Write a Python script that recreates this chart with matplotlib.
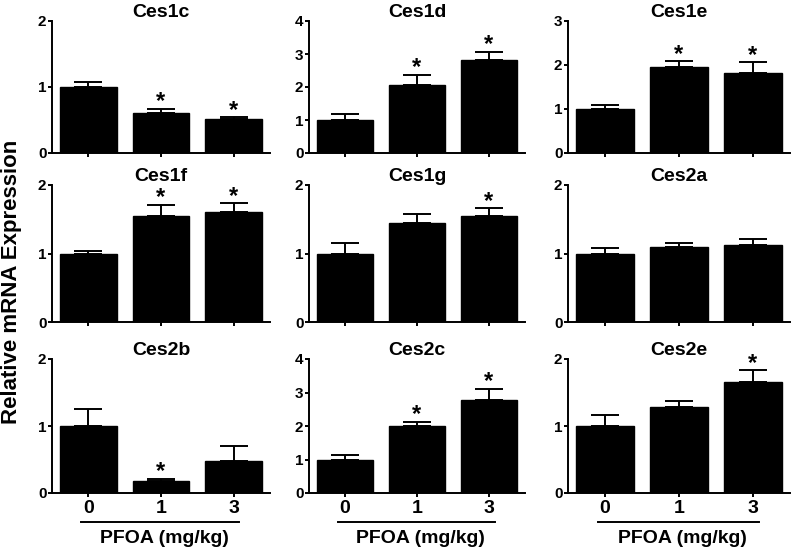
import matplotlib
matplotlib.use('Agg')
import matplotlib.pyplot as plt

plt.rcParams['font.family'] = ['Liberation Sans', 'DejaVu Sans']
plt.rcParams['font.weight'] = 'bold'

# data
genes = ['Ces1c', 'Ces1d', 'Ces1e', 'Ces1f', 'Ces1g', 'Ces2a', 'Ces2b', 'Ces2c', 'Ces2e']
doses = ['0', '1', '3']
means = [[1.00, 0.60, 0.51], [1.00, 2.06, 2.82], [1.00, 1.95, 1.82],
         [1.00, 1.55, 1.61], [1.00, 1.45, 1.55], [1.00, 1.09, 1.12],
         [1.00, 0.18, 0.48], [1.00, 2.00, 2.79], [1.00, 1.28, 1.66]]
sems = [[0.07, 0.07, 0.03], [0.17, 0.31, 0.24], [0.09, 0.13, 0.24],
        [0.04, 0.16, 0.12], [0.15, 0.13, 0.11], [0.08, 0.06, 0.09],
        [0.26, 0.03, 0.22], [0.13, 0.13, 0.31], [0.17, 0.10, 0.17]]
signif = [[0, 1, 1], [0, 1, 1], [0, 1, 1],
          [0, 1, 1], [0, 0, 1], [0, 0, 0],
          [0, 1, 0], [0, 1, 1], [0, 0, 1]]
ymax = [2, 4, 3, 2, 2, 2, 2, 4, 2]

W, H = 800, 552
fig = plt.figure(figsize=(8, 5.52), dpi=100)

col_left = [52, 309, 568]
col_width = [218, 216, 222]
rows = [(21, 153), (185, 322), (359, 493)]  # top, bottom in pixels

x = [0, 1, 2]
lw = 1.4
for i, gene in enumerate(genes):
    r, c = divmod(i, 3)
    top, bot = rows[r]
    ax = fig.add_axes([col_left[c] / W, 1 - bot / H, col_width[c] / W, (bot - top) / H])
    ax.bar(x, means[i], width=0.78, color='black', edgecolor='black', zorder=2)
    ax.errorbar(x, means[i], yerr=[[0, 0, 0], sems[i]], fmt='none', ecolor='black',
                elinewidth=lw, capsize=10, capthick=lw, zorder=1)
    for j in range(3):
        if signif[i][j]:
            ax.annotate('*', (x[j], means[i][j] + sems[i][j]), textcoords='offset points',
                        xytext=(0, 0.5), ha='center', va='baseline', fontsize=17,
                        fontweight='bold')
    ax.set_xlim(-0.5, 2.5)
    ax.set_ylim(0, ymax[i])
    ax.set_yticks(range(ymax[i] + 1))
    ax.set_title(gene, fontsize=14, fontweight='bold', pad=3)
    for s in ['top', 'right']:
        ax.spines[s].set_visible(False)
    for s in ['left', 'bottom']:
        ax.spines[s].set_linewidth(lw)
    ax.tick_params(axis='y', length=3, width=lw, labelsize=11, pad=1)
    ax.tick_params(axis='x', length=3, width=lw, pad=2)
    ax.set_xticks(x)
    if r == 2:
        ax.set_xticklabels(doses, fontsize=14, fontweight='bold')
        ax.plot([-0.1, 2.08], [-0.216, -0.216], color='black', lw=lw,
                transform=ax.get_xaxis_transform(), clip_on=False)
        ax.text(1.05, -0.34, 'PFOA (mg/kg)', transform=ax.get_xaxis_transform(),
                ha='center', va='center', fontsize=14, fontweight='bold')
    else:
        ax.set_xticklabels([])

fig.text(12 / W, 1 - 282 / H, 'Relative mRNA Expression', rotation=90,
         ha='center', va='center', fontsize=16, fontweight='bold')

fig.savefig('out.png', dpi=100)
